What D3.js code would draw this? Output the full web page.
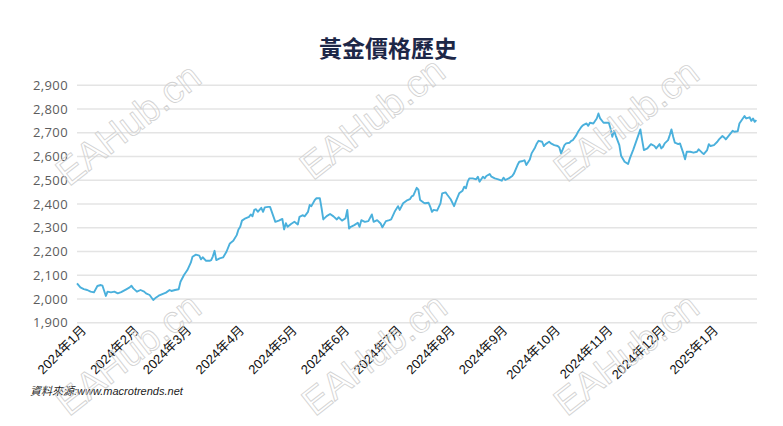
<!DOCTYPE html>
<meta charset="utf-8">
<html>
<head>
<script src="https://d3js.org/d3.v7.min.js"></script>
<style>
  body { margin: 0; background: #fff; }
  svg { display: block; }
</style>
</head>
<body>
<script>

const chartTitle = '黃金價格歷史',
      sourceNote = '資料來源:www.macrotrends.net',
      watermark = 'EAHub.cn';

const monthLabels = ['2024年1月','2024年2月','2024年3月','2024年4月','2024年5月','2024年6月',
  '2024年7月','2024年8月','2024年9月','2024年10月','2024年11月','2024年12月','2025年1月'];

const yTicks = [1900, 2000, 2100, 2200, 2300, 2400, 2500, 2600, 2700, 2800, 2900];

// [day of month, price] per month, same order as monthLabels
const priceByMonth = [
  [[1,2066],[3,2049],[5,2042],[7,2038],[9,2031],[11,2028],[13,2055],[15,2059],[16,2056],[18,2013],[19,2031],[21,2028],[23,2031],[25,2024],[27,2029],[30,2041]],
  [[1,2049],[2,2056],[3,2045],[5,2031],[7,2038],[9,2031],[10,2024],[12,2017],[14,1996],[15,2003],[17,2014],[19,2021],[21,2027],[23,2038],[24,2034],[26,2038],[28,2041],[29,2073]],
  [[2,2101],[4,2122],[6,2153],[7,2178],[9,2187],[11,2183],[12,2167],[13,2176],[15,2161],[17,2161],[18,2164],[19,2180],[20,2203],[21,2164],[23,2171],[25,2175],[27,2199],[29,2234],[31,2245]],
  [[2,2269],[3,2293],[4,2304],[5,2330],[7,2340],[9,2346],[10,2356],[11,2348],[12,2375],[13,2378],[14,2367],[16,2384],[17,2367],[18,2386],[20,2388],[21,2388],[23,2346],[24,2325],[26,2330],[28,2337],[29,2293],[30,2319]],
  [[1,2304],[3,2316],[5,2325],[7,2314],[8,2346],[10,2353],[11,2348],[13,2367],[14,2396],[15,2391],[17,2417],[18,2424],[20,2424],[21,2382],[22,2335],[24,2349],[26,2358],[28,2348],[30,2335],[31,2344]],
  [[2,2330],[4,2340],[5,2375],[6,2297],[7,2304],[9,2311],[11,2321],[12,2304],[13,2332],[15,2325],[17,2328],[19,2356],[20,2325],[22,2332],[24,2318],[25,2302],[27,2328],[29,2332],[30,2335]],
  [[2,2367],[4,2391],[5,2375],[7,2403],[9,2414],[11,2420],[12,2432],[13,2435],[15,2468],[16,2460],[17,2417],[19,2406],[20,2403],[22,2405],[23,2388],[24,2367],[25,2375],[27,2372],[29,2403],[30,2445]],
  [[1,2449],[2,2439],[4,2420],[6,2391],[7,2410],[9,2445],[11,2456],[12,2473],[13,2466],[14,2494],[15,2508],[17,2508],[19,2504],[20,2515],[21,2494],[23,2515],[24,2508],[25,2518],[27,2526],[28,2515],[30,2508]],
  [[1,2504],[3,2498],[4,2511],[5,2501],[7,2508],[9,2518],[10,2529],[12,2564],[13,2578],[15,2581],[16,2584],[17,2564],[19,2587],[20,2613],[22,2638],[23,2655],[24,2666],[26,2662],[27,2644],[28,2652],[30,2662]],
  [[1,2655],[3,2648],[5,2644],[6,2638],[7,2613],[9,2648],[10,2655],[12,2658],[13,2666],[14,2669],[16,2690],[17,2704],[19,2725],[20,2732],[22,2739],[23,2729],[24,2742],[26,2739],[28,2760],[29,2781],[30,2760]],
  [[1,2742],[2,2742],[4,2742],[5,2718],[6,2683],[7,2708],[8,2687],[10,2648],[11,2603],[13,2578],[15,2568],[16,2592],[18,2630],[20,2672],[22,2714],[23,2669],[24,2627],[26,2634],[28,2652],[30,2644]],
  [[1,2634],[3,2652],[4,2634],[5,2641],[6,2655],[8,2669],[9,2690],[10,2714],[11,2683],[12,2658],[14,2652],[15,2655],[17,2613],[18,2588],[19,2620],[21,2620],[23,2616],[25,2620],[26,2630],[28,2616],[29,2610],[31,2627]],
  [[1,2652],[2,2644],[4,2648],[6,2662],[7,2672],[9,2686],[10,2680],[11,2672],[13,2690],[15,2708],[16,2704],[18,2706],[19,2739],[21,2760],[22,2770],[23,2760],[25,2765],[26,2750],[27,2760],[28,2746],[29,2753]]
];

const width = 783, height = 426,
      plotLeft = 77, plotRight = 757;

const svg = d3.select('body').append('svg')
  .attr('width', width)
  .attr('height', height);

const monthStarts = d3.timeMonth.range(new Date(2024, 0, 1), new Date(2025, 1, 1));
const monthPos = (k, day) => {
  const n = d3.timeDay.count(monthStarts[k], d3.timeMonth.offset(monthStarts[k], 1));
  return k + (day - 1) / n;
};

const points = priceByMonth.flatMap((rows, k) => rows.map(([day, v]) => ({ t: monthPos(k, day), v })));

const x = d3.scaleLinear().domain([0, 13]).range([plotLeft, 761.5]),
      y = d3.scaleLinear().domain([1900, 2900]).range([322.8, 85.2]);

// title
svg.append('text')
  .attr('x', 388).attr('y', 57)
  .attr('text-anchor', 'middle')
  .style('font-family', '"Noto Sans CJK TC", "Noto Sans CJK SC", sans-serif')
  .style('font-weight', 'bold')
  .style('font-size', '23px')
  .style('fill', '#1d2747')
  .text(chartTitle);

// gridlines
svg.append('g')
  .selectAll('line')
  .data(yTicks)
  .join('line')
    .attr('x1', plotLeft).attr('x2', plotRight)
    .attr('y1', d => y(d)).attr('y2', d => y(d))
    .style('stroke', '#e4e4e4')
    .style('stroke-width', 1.5);

// y labels
svg.append('g')
  .selectAll('text')
  .data(yTicks)
  .join('text')
    .attr('x', 68)
    .attr('y', d => y(d))
    .attr('dy', '0.36em')
    .attr('text-anchor', 'end')
    .style('font-family', '"Open Sans", sans-serif')
    .style('font-size', '13px')
    .style('letter-spacing', '0.4px')
    .style('fill', '#5c5c5c')
    .text(d3.format(','));

// x labels
svg.append('g')
  .selectAll('text')
  .data(monthLabels)
  .join('text')
    .attr('transform', (d, i) => `translate(${x(i) + 10},331) rotate(-45)`)
    .attr('text-anchor', 'end')
    .style('font-family', '"Liberation Sans", "Noto Sans CJK TC", sans-serif')
    .style('font-size', '13px')
    .style('fill', '#111')
    .text(d => d);

// price line
svg.append('path')
  .datum(points)
  .attr('d', d3.line().x(d => x(d.t)).y(d => y(d.v)))
  .style('fill', 'none')
  .style('stroke', '#4ab0dc')
  .style('stroke-width', 1.9)
  .style('stroke-linejoin', 'round');

// source
svg.append('text')
  .attr('x', 30).attr('y', 395)
  .style('font-family', '"Liberation Sans", "Noto Sans CJK TC", sans-serif')
  .style('font-style', 'italic')
  .style('font-size', '11px')
  .style('fill', '#222')
  .text(sourceNote);

// watermarks
const marks = [[128, 124], [372, 118], [626, 120], [128, 354], [374, 354], [626, 354]];
svg.append('g')
  .selectAll('text')
  .data(marks)
  .join('text')
    .attr('transform', d => `translate(${d[0]},${d[1]}) rotate(-38)`)
    .attr('text-anchor', 'middle')
    .attr('dy', '0.35em')
    .style('font-family', '"Liberation Sans", sans-serif')
    .style('font-size', '38px')
    .style('fill', 'none')
    .style('stroke', '#d2d2d2')
    .style('stroke-width', 0.85)
    .text(watermark);

</script>
</body>
</html>
